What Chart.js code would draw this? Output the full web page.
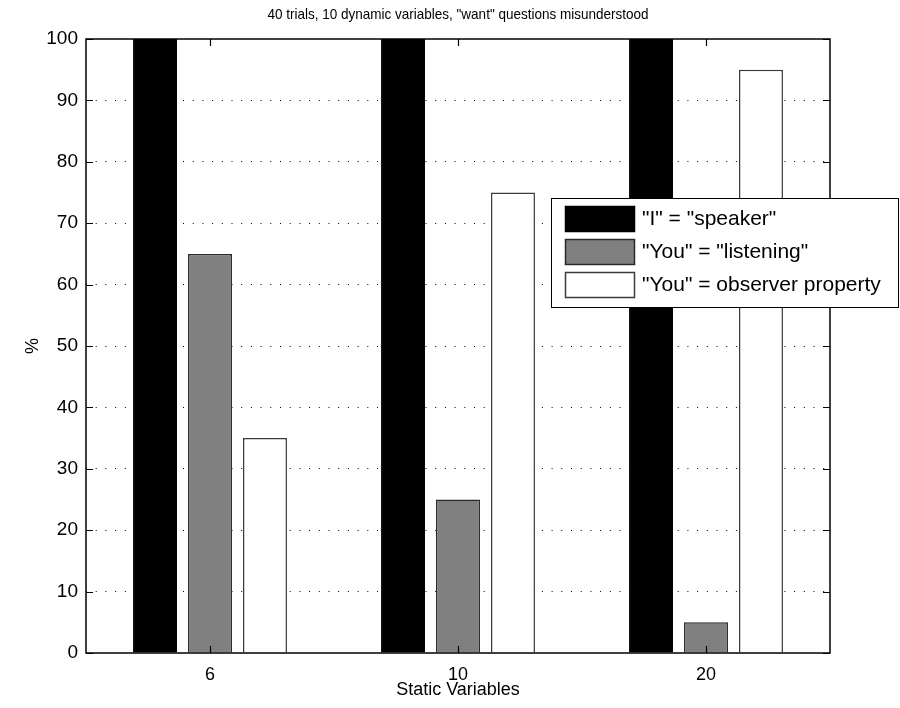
<!DOCTYPE html>
<html>
<head>
<meta charset="utf-8">
<script src="https://cdn.jsdelivr.net/npm/chart.js@4.4.1/dist/chart.umd.min.js"></script>
<style>
  html, body { margin: 0; padding: 0; background: #ffffff; }
  #wrap { width: 900px; height: 708px; }
</style>
</head>
<body>
<div id="wrap"><canvas id="c" width="900" height="708"></canvas></div>
<script>
// Static variable counts along the x axis
const categories = ['6', '10', '20'];

// Percentage of misunderstood "want" questions per interpretation
const speakerI = [100, 100, 100];
const listeningYou = [65, 25, 5];
const observerYou = [35, 75, 95];

const seriesNames = ['"I" = "speaker"', '"You" = "listening"', '"You" = observer property'];
const yTicks = [0, 10, 20, 30, 40, 50, 60, 70, 80, 90, 100];

const chartTitle = '40 trials, 10 dynamic variables, "want" questions misunderstood';
const xTitle = 'Static Variables';
const yTitle = '%';

const FONT = '"Liberation Sans", Arial, Helvetica, sans-serif';

// Frame, inward tick marks, titles and the boxed legend
const decorations = {
  id: 'decorations',
  afterDatasetsDraw(chart) {
    const { ctx, chartArea: a, scales } = chart;
    const tick = 7;
    ctx.save();
    ctx.strokeStyle = '#000';
    ctx.lineWidth = 1.5;
    ctx.strokeRect(a.left, a.top, a.right - a.left, a.bottom - a.top);
    ctx.lineWidth = 1.2;
    ctx.beginPath();
    yTicks.forEach(v => {
      const y = Math.round(scales.y.getPixelForValue(v)) + 0.5;
      ctx.moveTo(a.left, y); ctx.lineTo(a.left + tick, y);
      ctx.moveTo(a.right, y); ctx.lineTo(a.right - tick, y);
    });
    categories.forEach((c, i) => {
      const x = Math.round(scales.x.getPixelForValue(i)) + 0.5;
      ctx.moveTo(x, a.bottom); ctx.lineTo(x, a.bottom - tick);
      ctx.moveTo(x, a.top); ctx.lineTo(x, a.top + tick);
    });
    ctx.stroke();

    // Titles (the chart title is set slightly condensed)
    const cx = (a.left + a.right) / 2;
    ctx.fillStyle = '#000';
    ctx.textAlign = 'center';
    ctx.textBaseline = 'middle';
    ctx.save();
    ctx.translate(cx, 15);
    ctx.scale(0.9, 1);
    ctx.font = '15px ' + FONT;
    ctx.fillText(chartTitle, 0, 0);
    ctx.restore();
    ctx.font = '18px ' + FONT;
    ctx.fillText(xTitle, cx, 690);
    ctx.save();
    ctx.translate(33, (a.top + a.bottom) / 2);
    ctx.rotate(-Math.PI / 2);
    ctx.fillText(yTitle, 0, 0);
    ctx.restore();

    // Legend box
    const lx = 551, ly = 198, lw = 347, lh = 109;
    ctx.fillStyle = '#fff';
    ctx.fillRect(lx, ly, lw, lh);
    ctx.strokeStyle = '#000';
    ctx.lineWidth = 1;
    ctx.strokeRect(lx + 0.5, ly + 0.5, lw, lh);
    ctx.textAlign = 'left';
    ctx.font = '21px ' + FONT;
    chart.data.datasets.forEach((ds, i) => {
      const sy = 206 + i * 33;
      ctx.fillStyle = ds.backgroundColor;
      ctx.fillRect(565, sy, 70, 26);
      ctx.strokeStyle = ds.borderColor;
      ctx.lineWidth = 1.5;
      ctx.strokeRect(565.5, sy + 0.5, 69, 25);
      ctx.fillStyle = '#000';
      ctx.fillText(ds.label, 642, sy + 13);
    });
    ctx.restore();
  }
};

new Chart(document.getElementById('c'), {
  type: 'bar',
  plugins: [decorations],
  data: {
    labels: categories,
    datasets: [
      { label: seriesNames[0], data: speakerI, backgroundColor: '#000000', borderColor: '#000000', borderWidth: 1 },
      { label: seriesNames[1], data: listeningYou, backgroundColor: '#808080', borderColor: '#2a2a2a', borderWidth: 1.5 },
      { label: seriesNames[2], data: observerYou, backgroundColor: '#ffffff', borderColor: '#3a3a3a', borderWidth: 1.5 }
    ]
  },
  options: {
    responsive: false,
    animation: false,
    devicePixelRatio: 1,
    layout: { padding: { top: 39, right: 70, bottom: 0, left: 0 } },
    categoryPercentage: 0.665,
    barPercentage: 0.8,
    plugins: {
      legend: { display: false },
      title: { display: false },
      tooltip: { enabled: false }
    },
    scales: {
      x: {
        type: 'category',
        offset: true,
        grid: { display: false, drawTicks: false },
        border: { display: false },
        ticks: { color: '#000', padding: 11, font: { family: FONT, size: 18 } },
        afterFit: s => { s.height = 55; }
      },
      y: {
        min: 0,
        max: 100,
        afterBuildTicks: s => { s.ticks = yTicks.map(v => ({ value: v })); },
        grid: {
          drawTicks: false,
          color: ctx => (ctx.tick && (ctx.tick.value === 0 || ctx.tick.value === 100)) ? 'rgba(0,0,0,0)' : '#000',
          lineWidth: 1
        },
        border: { display: false, dash: [1, 8.7] },
        ticks: { color: '#000', padding: 8, font: { family: FONT, size: 19 } },
        afterFit: s => { s.width = 86; }
      }
    }
  }
});
</script>
</body>
</html>
